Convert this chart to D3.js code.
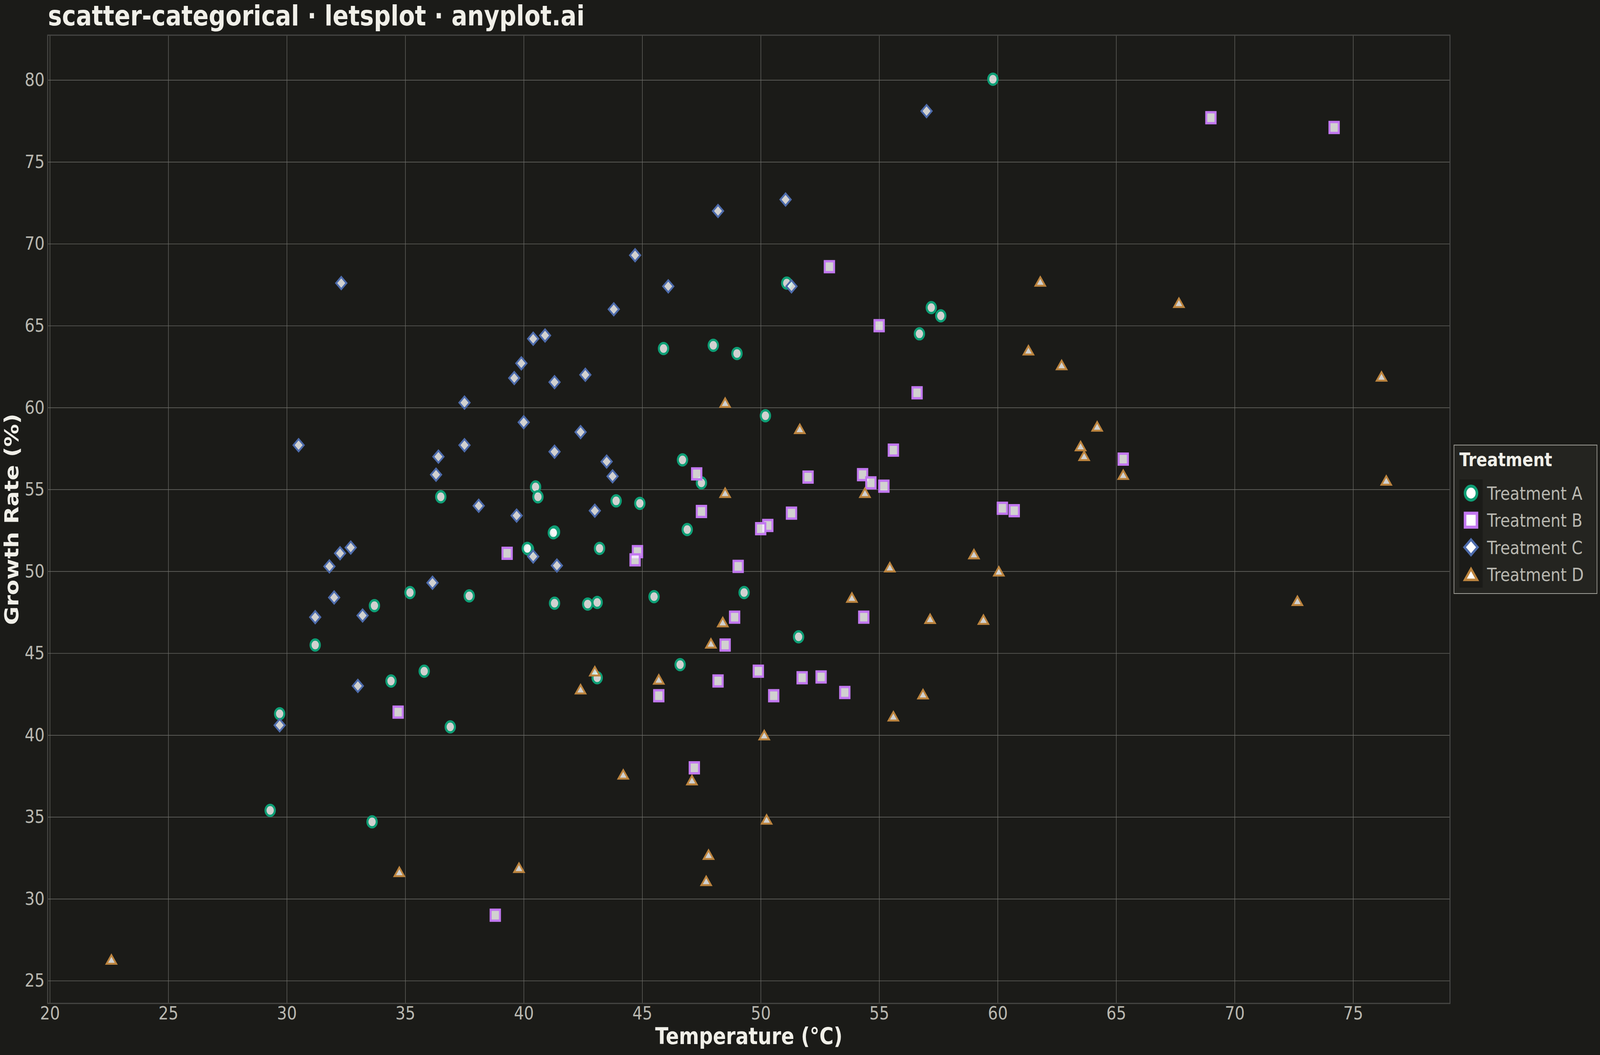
<!DOCTYPE html>
<html>
<head>
<meta charset="utf-8">
<script src="https://cdn.jsdelivr.net/npm/d3@7"></script>
<style>
  html, body { margin: 0; padding: 0; overflow: hidden; background: #1b1b18; }
  svg { display: block; width: 100vw; height: 100vh; font-family: "DejaVu Sans", sans-serif; }
</style>
</head>
<body>
<div id="chart-area"></div>
<script>
// values
const treatments = ['Treatment A', 'Treatment B', 'Treatment C', 'Treatment D'];

const tempA = [59.8, 51.1, 57.2, 57.6, 56.7, 45.9, 48.0, 49.0, 50.2, 46.7, 47.5, 40.5, 40.6, 36.5, 43.9, 44.9, 46.9, 41.3, 41.25, 43.2,
  40.2, 40.15, 35.2, 37.7, 45.5, 49.3, 41.3, 42.7, 43.1, 33.7, 31.2, 51.6, 46.6, 35.8, 34.4, 43.1, 29.7, 36.9, 29.3, 33.6];
const growthA = [80.05, 67.6, 66.1, 65.6, 64.5, 63.6, 63.8, 63.3, 59.5, 56.8, 55.4, 55.15, 54.55, 54.55, 54.3, 54.15, 52.55, 52.4, 52.35, 51.4,
  51.35, 51.4, 48.7, 48.5, 48.45, 48.7, 48.05, 48.0, 48.1, 47.9, 45.5, 46.0, 44.3, 43.9, 43.3, 43.5, 41.3, 40.5, 35.4, 34.7];

const tempB = [69.0, 74.2, 52.9, 55.0, 56.6, 55.6, 65.3, 47.3, 52.0, 54.3, 54.65, 55.2, 47.5, 60.2, 60.7, 51.3, 50.3, 50.0, 39.3, 44.8,
  44.7, 49.05, 48.9, 54.35, 48.5, 49.9, 48.2, 51.75, 52.55, 45.7, 50.55, 53.55, 34.7, 47.2, 38.8];
const growthB = [77.7, 77.1, 68.6, 65.0, 60.9, 57.4, 56.85, 55.95, 55.75, 55.9, 55.4, 55.2, 53.65, 53.85, 53.7, 53.55, 52.8, 52.6, 51.1, 51.2,
  50.7, 50.3, 47.2, 47.2, 45.5, 43.9, 43.3, 43.5, 43.55, 42.4, 42.4, 42.6, 41.4, 38.0, 29.0];

const tempC = [57.0, 51.05, 48.2, 44.7, 32.3, 46.1, 51.3, 43.8, 40.4, 40.9, 39.9, 39.6, 42.6, 41.3, 37.5, 40.0, 42.4, 30.5, 37.5, 41.3,
  36.4, 43.5, 43.75, 36.3, 38.1, 39.7, 43.0, 32.7, 32.25, 31.8, 40.4, 41.4, 36.15, 32.0, 31.2, 33.2, 33.0, 29.7];
const growthC = [78.1, 72.7, 72.0, 69.3, 67.6, 67.4, 67.4, 66.0, 64.2, 64.4, 62.7, 61.8, 62.0, 61.55, 60.3, 59.1, 58.5, 57.7, 57.7, 57.3,
  57.0, 56.7, 55.8, 55.9, 54.0, 53.4, 53.7, 51.45, 51.1, 50.3, 50.9, 50.35, 49.3, 48.4, 47.2, 47.3, 43.0, 40.6];

const tempD = [61.8, 67.65, 61.3, 62.7, 76.2, 48.5, 51.65, 64.2, 63.5, 63.65, 65.3, 76.4, 48.5, 54.4, 59.0, 55.45, 60.05, 53.85, 72.65, 57.15,
  59.4, 48.4, 47.9, 43.0, 45.7, 42.4, 56.85, 55.6, 50.15, 44.2, 47.1, 50.25, 47.8, 47.7, 34.75, 39.8, 22.6];
const growthD = [67.7, 66.4, 63.5, 62.6, 61.9, 60.3, 58.7, 58.85, 57.65, 57.05, 55.9, 55.55, 54.8, 54.8, 51.05, 50.25, 50.0, 48.4, 48.2, 47.1,
  47.05, 46.9, 45.6, 43.9, 43.4, 42.8, 42.5, 41.15, 40.0, 37.6, 37.25, 34.85, 32.7, 31.1, 31.65, 31.9, 26.3];

const xTicks = [20, 25, 30, 35, 40, 45, 50, 55, 60, 65, 70, 75];
const yTicks = [25, 30, 35, 40, 45, 50, 55, 60, 65, 70, 75, 80];

// flat triangle like the lets-plot one
const symbolFlatTriangle = {
  draw(ctx, size) {
    const w = Math.sqrt(size);
    ctx.moveTo(0, -0.76 * w);
    ctx.lineTo(w, 0.76 * w);
    ctx.lineTo(-w, 0.76 * w);
    ctx.closePath();
  }
};

const styles = {
  'Treatment A': { color: '#0e9e75', type: d3.symbolCircle, size: 616, stroke: 6, rotate: 0 },
  'Treatment B': { color: '#c278f0', type: d3.symbolSquare, size: 784, stroke: 6, rotate: 0 },
  'Treatment C': { color: '#4d6bab', type: d3.symbolSquare, size: 484, stroke: 5, rotate: 45 },
  'Treatment D': { color: '#bc843e', type: symbolFlatTriangle, size: 210, stroke: 5, rotate: 0 }
};

const buildPoints = () => {
  const cols = [[tempA, growthA], [tempB, growthB], [tempC, growthC], [tempD, growthD]];
  return treatments.flatMap((t, i) => cols[i][0].map((x, j) => ({ treatment: t, temp: x, growth: cols[i][1][j] })));
};

const expand = (ext) => {
  const pad = (ext[1] - ext[0]) * 0.05;
  return [ext[0] - pad, ext[1] + pad];
};

const drawChart = (points) => {
  const chartSize = { width: 4800, height: 2700 };
  const margin = { left: 143, right: 450, top: 90, bottom: 132 };
  const width = chartSize.width - margin.left - margin.right;
  const height = chartSize.height - margin.top - margin.bottom;

  // the svg always fills the window; drawing units stay 4800x2700
  const svg = d3.select('#chart-area').append('svg')
    .attr('viewBox', `0 0 ${chartSize.width} ${chartSize.height}`)
    .attr('preserveAspectRatio', 'none');

  svg.append('rect')
    .attr('width', chartSize.width)
    .attr('height', chartSize.height)
    .attr('fill', '#1b1b18');

  svg.append('text')
    .attr('x', 144)
    .attr('y', 65)
    .attr('font-size', 70.6)
    .attr('font-weight', 'bold')
    .attr('fill', '#f0efe8')
    .text('scatter-categorical · letsplot · anyplot.ai');

  const x = d3.scaleLinear()
    .domain(expand(d3.extent(points, d => d.temp)))
    .range([0, width]);

  const y = d3.scaleLinear()
    .domain(expand(d3.extent(points, d => d.growth)))
    .range([height, 0]);

  const g = svg.append('g')
    .attr('transform', `translate(${margin.left},${margin.top})`);

  // grid
  g.append('g')
    .attr('class', 'x grid')
    .call(d3.axisBottom(x).tickValues(xTicks).tickSize(height).tickFormat(''))
    .call(s => s.select('.domain').remove())
    .selectAll('line')
    .attr('stroke', '#6f6f6a')
    .attr('stroke-width', 1.4);

  g.append('g')
    .attr('class', 'y grid')
    .call(d3.axisLeft(y).tickValues(yTicks).tickSize(-width).tickFormat(''))
    .call(s => s.select('.domain').remove())
    .selectAll('line')
    .attr('stroke', '#6f6f6a')
    .attr('stroke-width', 1.4);

  g.append('rect')
    .attr('width', width)
    .attr('height', height)
    .attr('fill', 'none')
    .attr('stroke', '#474744')
    .attr('stroke-width', 3);

  const xAxis = g.append('g')
    .attr('class', 'x axis')
    .attr('transform', `translate(0,${height})`)
    .call(d3.axisBottom(x).tickValues(xTicks).tickSize(0).tickPadding(8));

  const yAxis = g.append('g')
    .attr('class', 'y axis')
    .call(d3.axisLeft(y).tickValues(yTicks).tickSize(0).tickPadding(9));

  [xAxis, yAxis].forEach(a => {
    a.select('.domain').remove();
    a.selectAll('text')
      .attr('font-size', 47)
      .attr('font-family', '"DejaVu Sans", sans-serif')
      .attr('fill', '#b9b8b0');
  });

  g.append('text')
    .attr('x', width / 2)
    .attr('y', 2672 - margin.top)
    .attr('text-anchor', 'middle')
    .attr('font-size', 58)
    .attr('font-weight', 'bold')
    .attr('fill', '#f0efe8')
    .text('Temperature (°C)');

  g.append('text')
    .attr('transform', `translate(${55 - margin.left},${height / 2}) rotate(-90)`)
    .attr('text-anchor', 'middle')
    .attr('font-size', 58)
    .attr('font-weight', 'bold')
    .attr('fill', '#f0efe8')
    .text('Growth Rate (%)');

  // points
  g.selectAll('path.point')
    .data(points)
    .enter()
    .append('path')
    .attr('class', 'point')
    .attr('d', d => d3.symbol().type(styles[d.treatment].type).size(styles[d.treatment].size)())
    .attr('transform', d => `translate(${x(d.temp)},${y(d.growth)}) rotate(${styles[d.treatment].rotate})`)
    .attr('fill', '#ffffff')
    .attr('fill-opacity', 0.8)
    .attr('stroke', d => styles[d.treatment].color)
    .attr('stroke-width', d => styles[d.treatment].stroke)
    .attr('stroke-linejoin', 'miter');

  // legend
  const legend = svg.append('g')
    .attr('transform', 'translate(4362,1139)');

  legend.append('rect')
    .attr('width', 429)
    .attr('height', 380)
    .attr('fill', '#242420')
    .attr('stroke', '#a09f98')
    .attr('stroke-width', 2);

  legend.append('text')
    .attr('x', 16)
    .attr('y', 54)
    .attr('font-size', 48)
    .attr('font-weight', 'bold')
    .attr('fill', '#f0efe8')
    .text('Treatment');

  legend.append('rect')
    .attr('x', 16)
    .attr('y', 88)
    .attr('width', 70)
    .attr('height', 277)
    .attr('fill', '#1b1b18');

  const items = legend.selectAll('.item')
    .data(treatments)
    .enter()
    .append('g')
    .attr('class', 'item')
    .attr('transform', (t, i) => `translate(0,${123 + i * 69.3})`);

  items.append('path')
    .attr('d', t => d3.symbol().type(styles[t].type).size(styles[t].size * 1.62)())
    .attr('transform', t => `translate(51,0) rotate(${styles[t].rotate})`)
    .attr('fill', '#ffffff')
    .attr('stroke', t => styles[t].color)
    .attr('stroke-width', t => styles[t].stroke * 1.3);

  items.append('text')
    .attr('x', 99)
    .attr('y', 17)
    .attr('font-size', 47)
    .attr('fill', '#b9b8b0')
    .text(t => t);
};

const main = () => {
  drawChart(buildPoints());
};
window.onload = main;
</script>
</body>
</html>
